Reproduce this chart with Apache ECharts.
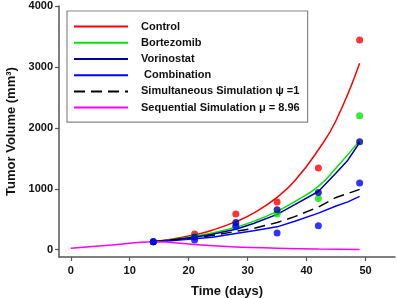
<!DOCTYPE html>
<html>
<head>
<meta charset="utf-8">
<script src="https://cdn.jsdelivr.net/npm/echarts@6/dist/echarts.min.js"></script>
<style>
  html, body { margin: 0; padding: 0; background: #fff; }
  #chart { width: 397px; height: 298px; }
</style>
</head>
<body>
<div id="chart"></div>
<script>
// measured tumor volumes (dots)
const dataDays = [14, 21, 28, 35, 42, 49];
const controlPts = [130, 257, 585, 782, 1339, 3443];
const bortezomibPts = [130, 215, 400, 585, 841, 2197];
const vorinostatPts = [130, 208, 447, 656, 940, 1770];
const combinationPts = [130, 159, 382, 273, 393, 1093];

// model curves
const curveDays = [14, 17, 21, 24, 28, 31, 35, 38, 42, 45, 49];
const controlCurve = [130, 170, 245, 320, 460, 600, 860, 1130, 1640, 2120, 3060];
const bortezomibCurve = [130, 163, 220, 275, 370, 465, 630, 790, 1040, 1340, 1790];
// [day, volume] - the small drops are the dosing days
const vorinostatCurve = [[14, 130], [17, 158], [21, 205], [24, 255], [24, 248], [28, 335], [31, 430], [31, 420],
  [35, 580], [38, 740], [38, 725], [42, 955], [45, 1260], [45, 1235], [47, 1470], [49, 1760]];
const combinationCurve = [[14, 130], [17, 148], [21, 178], [24, 205], [24, 199], [28, 265], [31, 310], [31, 303],
  [35, 375], [38, 468], [38, 458], [42, 600], [45, 718], [45, 706], [47, 785], [49, 874]];
const simultaneousCurve = [[14, 130], [17, 160], [21, 195], [24, 233], [24, 228], [28, 300], [31, 350], [31, 342],
  [35, 445], [38, 543], [38, 532], [42, 700], [45, 858], [45, 850], [47, 922], [49, 990]];
const seqDays = [0, 7, 14, 21, 28, 35, 42, 49];
const sequentialCurve = [25, 75, 130, 85, 45, 25, 12, 5];

const xTicks = [0, 10, 20, 30, 40, 50];
const yTicks = [0, 1000, 2000, 3000, 4000];

const legendNames = ['Control', 'Bortezomib', 'Vorinostat', ' Combination',
  'Simultaneous Simulation \u03c8 =1', 'Sequential Simulation \u03bc = 8.96'];

function pairs(xs, ys) {
  return xs.map((x, i) => [x, ys[i]]);
}

const font = 'Liberation Sans, Arial, sans-serif';

function curve(name, data, color, opts) {
  opts = opts || {};
  return {
    name: name,
    type: 'line',
    data: data,
    symbol: 'none',
    smooth: opts.steps ? false : true,
    lineStyle: { color: color, width: 1.5, type: opts.dashed ? [11, 6] : 'solid' },
    itemStyle: { color: color },
    z: 2
  };
}

function dots(name, data, color) {
  return {
    name: name,
    type: 'scatter',
    data: data,
    symbolSize: 7,
    itemStyle: { color: color },
    z: 3
  };
}

let myChart = echarts.init(document.getElementById('chart'));
myChart.setOption({
  animation: false,
  grid: { left: 59, right: 2, top: 6, bottom: 41, outerBoundsMode: 'none' },
  legend: {
    orient: 'vertical',
    left: 67,
    top: 11,
    data: legendNames,
    itemWidth: 54,
    itemHeight: 14,
    itemGap: 5,
    padding: [10, 8, 9, 6],
    borderColor: '#888',
    borderWidth: 1.2,
    backgroundColor: '#fff',
    itemStyle: { opacity: 0 },
    textStyle: { fontFamily: font, fontWeight: 'bold', fontSize: 11, color: '#111', padding: [0, 0, 0, 8] }
  },
  xAxis: {
    type: 'value',
    min: -2,
    max: 55,
    name: 'Time (days)',
    nameLocation: 'middle',
    nameGap: 28,
    nameTextStyle: { fontFamily: font, fontWeight: 'bold', fontSize: 13, color: '#111' },
    splitLine: { show: false },
    axisLine: { onZero: false, lineStyle: { color: '#555', width: 1.5 } },
    axisTick: { customValues: xTicks, length: 4, lineStyle: { color: '#555', width: 1.2 } },
    axisLabel: { customValues: xTicks, margin: 8, fontFamily: font, fontWeight: 'bold', fontSize: 11, color: '#111' }
  },
  yAxis: {
    type: 'value',
    min: -120,
    max: 4000,
    name: 'Tumor Volume (mm\u00b3)',
    nameLocation: 'middle',
    nameGap: 38,
    nameTextStyle: { fontFamily: font, fontWeight: 'bold', fontSize: 13, color: '#111' },
    splitLine: { show: false },
    axisLine: { show: true, onZero: false, lineStyle: { color: '#555', width: 1.5 } },
    axisTick: { show: true, customValues: yTicks, length: 4, lineStyle: { color: '#555', width: 1.2 } },
    axisLabel: {
      customValues: yTicks, margin: 6, fontFamily: font, fontWeight: 'bold', fontSize: 11, color: '#111',
      formatter: v => String(v)
    }
  },
  series: [
    curve(legendNames[0], pairs(curveDays, controlCurve), '#ff0000'),
    curve(legendNames[1], pairs(curveDays, bortezomibCurve), '#00e600'),
    curve(legendNames[2], vorinostatCurve, '#0000a0', { steps: true }),
    curve(legendNames[3], combinationCurve, '#0000ff', { steps: true }),
    curve(legendNames[4], simultaneousCurve, '#000000', { steps: true, dashed: true }),
    curve(legendNames[5], pairs(seqDays, sequentialCurve), '#ff00ff'),
    dots('Control data', pairs(dataDays, controlPts), '#ff0000'),
    dots('Bortezomib data', pairs(dataDays, bortezomibPts), '#00e600'),
    dots('Vorinostat data', pairs(dataDays, vorinostatPts), '#0000a0'),
    dots('Combination data', pairs(dataDays, combinationPts), '#0000ff')
  ]
});
</script>
</body>
</html>
